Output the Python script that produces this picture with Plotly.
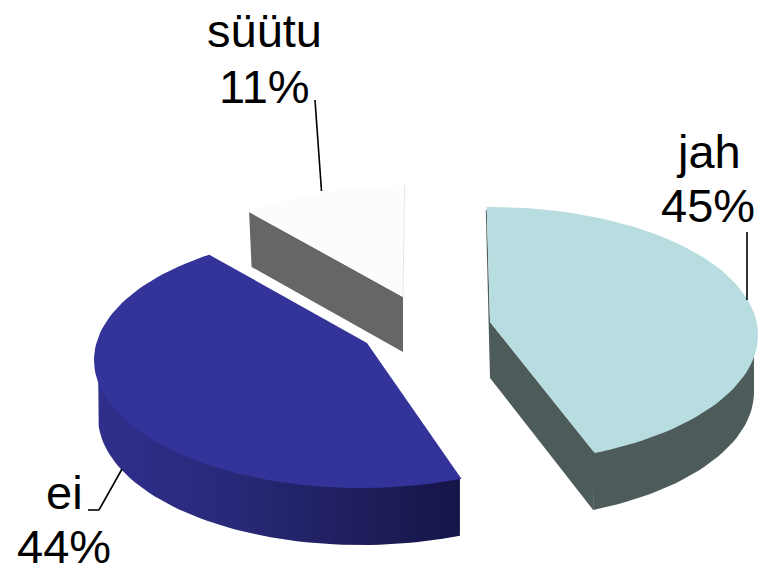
import numpy as np
import plotly.graph_objects as go

categories = ["jah", "ei", "süütu"]
shares = [45, 44, 11]
top_colors = ["#B8DDE0", "#333399", "#FCFCFC"]
side_colors = ["#4D5B5B", "#2A2A80", "#666666"]

W, H = 761, 567
A, B, P = 265.6, 126.7, 0.1016   # projected radius x / y and perspective
SHRINK = 0.985
ROT = -2.0
depths = [57, 57, 55]
centers = [(491, 322), (361, 347), (413, 300)]   # exploded rim centres
tips = [(490, 322), (367, 343), (403, 297)]      # drawn slice tips
start_view = [1.0, 0.0, 0.0]                     # perspective correction of the edges, degrees
end_view = [-0.7, 3.5, 0.0]


def rim(theta):
    t = np.radians(theta)
    d = 1 + P * np.cos(t)
    return A * np.sin(t) / d, -B * np.cos(t) / d


def poly(xs, ys, color, **kw):
    if not kw:
        kw = dict(fillcolor=color)
    return go.Scatter(x=list(xs) + [xs[0]], y=list(ys) + [ys[0]], mode="lines", fill="toself",
                      line=dict(width=0, color=color), hoverinfo="skip", showlegend=False, **kw)


bounds = ROT + np.concatenate([[0], np.cumsum(shares)]) * 3.6
sides, tops = [], []
for i, cat in enumerate(categories):
    cx, cy = centers[i]
    ax, ay = tips[i]
    dep = depths[i]
    th = np.linspace(bounds[i] + start_view[i], bounds[i + 1] + end_view[i], 90)
    rx, ry = rim(th)
    tx, ty = cx + rx, cy + ry
    ix, iy = cx + SHRINK * rx, cy + SHRINK * ry      # wall's upper edge, tucked under the top face
    bx, by = cx + SHRINK * rx, cy + dep + ry
    c = side_colors[i]
    if cat == "jah":
        k = -1
        sides.append(poly([ax, tx[k], bx[k], ax], [ay, ty[k], by[k], ay + dep - 1], c))
        # thin sliver of the starting cut face
        sides.append(poly([ax, tx[0] - 1, tx[0], ax], [ay + dep - 1, ty[0] + 2, ty[0] + 4, ay], c))
        keep = th >= 96
        sides.append(poly(np.concatenate([ix[keep], bx[keep][::-1]]),
                          np.concatenate([iy[keep], by[keep][::-1]]), c))
    elif cat == "ei":
        keep = th <= 264
        sides.append(poly(np.concatenate([ix[keep], bx[keep][::-1]]),
                          np.concatenate([iy[keep], by[keep][::-1]]), c,
                          fillgradient=dict(
                              type="horizontal",
                              colorscale=[[0, "#2F2F8C"], [0.35, "#29297A"], [0.7, "#1F1F5E"], [1, "#151548"]])))
    else:
        sides.append(poly([ax, tx[0], bx[0], ax], [ay, ty[0], by[0], ay + dep], c))
    tops.append(poly(np.concatenate([[ax], tx]), np.concatenate([[ay], ty]), top_colors[i]))

fig = go.Figure(sides + tops)

# hairline on the right edge of the white slice
sx, sy = rim(bounds[3])
shapes = [dict(type="line", x0=tips[2][0], y0=tips[2][1],
               x1=centers[2][0] + sx, y1=centers[2][1] + sy, line=dict(color="#E6E6E6", width=1))]

leaders = [
    [(747, 232), (747, 300)],
    [(122, 469), (99, 510), (88, 510)],
    [(315, 100), (321.5, 191)],
]
for pts in leaders:
    for (x0, y0), (x1, y1) in zip(pts, pts[1:]):
        shapes.append(dict(type="line", x0=x0, y0=y0, x1=x1, y1=y1, line=dict(color="black", width=1.6)))

label_pos = [((708, 151), (708, 205)), ((64, 492), (64, 546)), ((264, 30), (264, 86))]
anns = []
for cat, share, (p1, p2) in zip(categories, shares, label_pos):
    for text, (x, y) in ((cat, p1), (f"{share}%", p2)):
        anns.append(dict(x=x, y=y, text=text, showarrow=False, xanchor="center", yanchor="middle",
                         font=dict(family="Liberation Sans, Arial, sans-serif", size=47, color="black")))

fig.update_layout(
    width=W, height=H, margin=dict(l=0, r=0, t=0, b=0),
    paper_bgcolor="white", plot_bgcolor="white", showlegend=False,
    xaxis=dict(range=[0, W], visible=False, fixedrange=True),
    yaxis=dict(range=[H, 0], visible=False, fixedrange=True),
    shapes=shapes, annotations=anns,
)
fig.write_html("out.html", config=dict(displayModeBar=False),
               post_script="document.body.style.margin='0';document.body.style.overflow='hidden';")
